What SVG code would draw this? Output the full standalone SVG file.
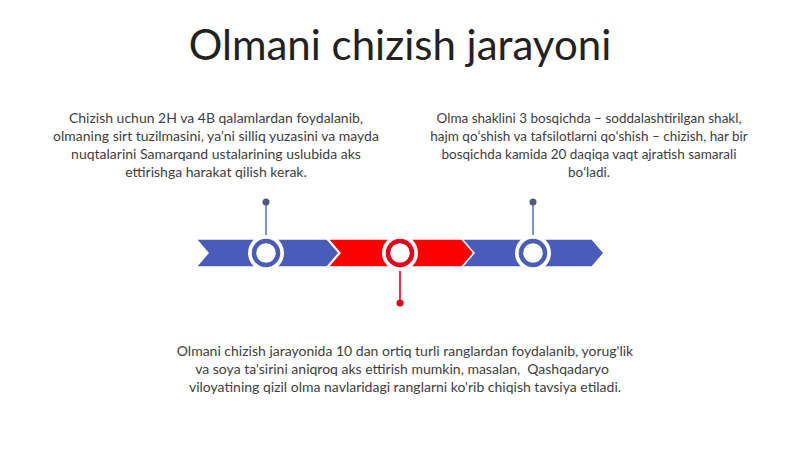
<svg xmlns="http://www.w3.org/2000/svg" width="800" height="449" viewBox="0 0 800 449">
<style>
.t{font-family:Lato,"Open Sans","Liberation Sans",sans-serif;fill:#404040;font-size:14px;text-anchor:middle}
.tr{font-size:13.5px}
.ti{font-family:Lato,"Open Sans","Liberation Sans",sans-serif;fill:#222;font-size:42px;text-anchor:middle}
.seg{stroke:#fff;stroke-width:1.5}
.blue{fill:#4A5CBA}
.red{fill:#FF0000}
.ringb{fill:#fff;stroke:#4A5CBA;stroke-width:4.5}
.ringr{fill:#fff;stroke:#E8001C;stroke-width:4.5}
.halo{fill:#fff}
</style>
<rect width="800" height="449" fill="#fff"/>
<text class="ti" x="400" y="60">Olmani chizish jarayoni</text>
<g id="arrows">
<polygon class="seg blue" points="196,239 327,239 339,253 327,267 196,267 208,253"/>
<polygon class="seg red" points="328,239 462,239 474,253 462,267 328,267 340,253"/>
<polygon class="seg blue" points="462,239 592,239 604,253 592,267 462,267 474,253"/>
</g>
<g id="connectors">
<line x1="266" y1="202" x2="266" y2="236" stroke="#6575C0" stroke-width="1.6"/>
<circle cx="266" cy="202" r="3.5" fill="#4E5A7C"/>
<line x1="533" y1="202" x2="533" y2="236" stroke="#6575C0" stroke-width="1.6"/>
<circle cx="533" cy="202" r="3.5" fill="#4E5A7C"/>
<line x1="400" y1="270" x2="400" y2="303" stroke="#E8001C" stroke-width="1.6"/>
<circle cx="400" cy="303" r="3.5" fill="#E8001C"/>
</g>
<g id="node1">
<circle class="halo" cx="266" cy="253" r="18"/>
<circle class="ringb" cx="266" cy="253" r="12"/>
<text class="t" x="216" y="123">Chizish uchun 2H va 4B qalamlardan foydalanib,</text>
<text class="t" x="216" y="141">olmaning sirt tuzilmasini, ya'ni silliq yuzasini va mayda</text>
<text class="t" x="216" y="159">nuqtalarini Samarqand ustalarining uslubida aks</text>
<text class="t" x="216" y="177">ettirishga harakat qilish kerak.</text>
</g>
<g id="node2">
<circle class="halo" cx="400" cy="253" r="18"/>
<circle class="ringr" cx="400" cy="253" r="12"/>
<text class="t" x="405" y="356">Olmani chizish jarayonida 10 dan ortiq turli ranglardan foydalanib, yorug'lik</text>
<text class="t" x="402" y="374">va soya ta'sirini aniqroq aks ettirish mumkin, masalan,&#160; Qashqadaryo</text>
<text class="t" x="405" y="392">viloyatining qizil olma navlaridagi ranglarni ko'rib chiqish tavsiya etiladi.</text>
</g>
<g id="node3">
<circle class="halo" cx="533" cy="253" r="18"/>
<circle class="ringb" cx="533" cy="253" r="12"/>
<text class="t tr" x="589" y="123">Olma shaklini 3 bosqichda – soddalashtirilgan shakl,</text>
<text class="t tr" x="589" y="141">hajm qoʻshish va tafsilotlarni qoʻshish – chizish, har bir</text>
<text class="t tr" x="589" y="159">bosqichda kamida 20 daqiqa vaqt ajratish samarali</text>
<text class="t tr" x="589" y="177">boʻladi.</text>
</g>
</svg>
